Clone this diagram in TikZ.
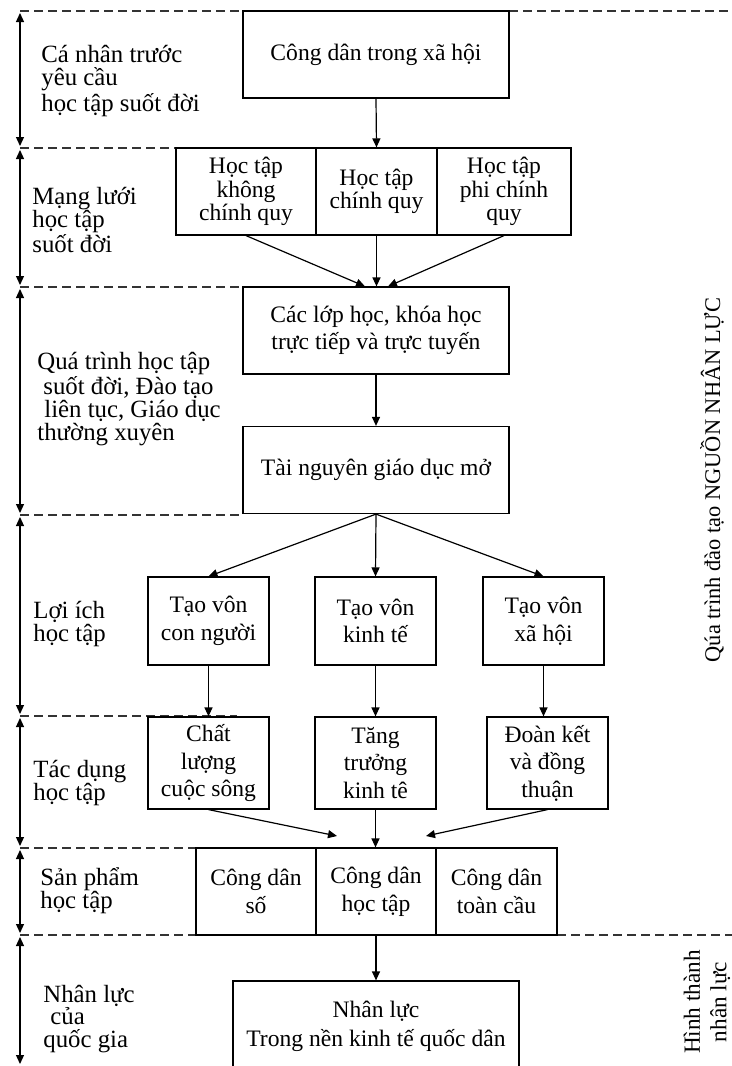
\documentclass[tikz,border=0pt]{standalone}
\usepackage{fontspec}
\setmainfont{Liberation Serif}
\usetikzlibrary{arrows.meta}

\begin{document}
\begin{tikzpicture}[x=0.5pt,y=-0.5pt,
  font=\fontsize{11.8}{13.8}\selectfont,
  >={Triangle[length=4.5pt,width=4pt]},
  box/.style={draw,line width=0.6pt,align=center,inner sep=0pt,minimum height=43.5pt},
  tight/.style={font=\fontsize{11.8}{11.8}\selectfont},
  lbl/.style={anchor=west,align=left,inner sep=0pt,font=\fontsize{12.4}{11.4}\selectfont},
  sep/.style={dash pattern=on 4.5pt off 2.5pt,line width=0.6pt,black!80},
  band/.style={<->,line width=0.6pt,shorten <=1pt,shorten >=1pt},
  link/.style={->,line width=0.6pt}]

  \useasboundingbox (0,0) rectangle (732,1066);

  % band borders
  \foreach \y/\xa/\xb in {11/20/243, 11/509/732, 148/20/237, 287/20/243,
      515/20/243, 716/20/237, 848/20/196, 935/20/196, 935/557/732}
    \draw[sep] (\xa,\y) -- (\xb,\y);

  % band heights
  \foreach \ya/\yb in {11/148, 148/287, 287/515, 515/716, 716/848, 848/935, 935/1066}
    \draw[band] (20,\ya) -- (20,\yb);

  % band titles
  \node[lbl] (l1) at (41,81) {Cá nhân trước\\yêu cầu\\học tập suốt đời};
  \node[lbl] (l2) at (32,220) {Mạng lưới\\học tập\\suốt đời};
  \node[lbl] (l3) at (37,399) {Quá trình học tập\\\hspace*{3pt}suốt đời, Đào tạo\\\hspace*{3.5pt}liên tục, Giáo dục\\thường xuyên};
  \node[lbl] (l4) at (33,624) {Lợi ích\\học tập};
  \node[lbl] (l5) at (33,783) {Tác dụng\\học tập};
  \node[lbl] (l6) at (40,891) {Sản phẩm\\học tập};
  \node[lbl] (l7) at (43,1019) {Nhân lực\\\hspace*{3.5pt}của\\quốc gia};

  % right side
  \node[rotate=90,font=\fontsize{11.2}{13}\selectfont] (process) at (712,480)
    {Qúa trình đào tạo NGUỒN NHÂN LỰC};
  \node[rotate=90,align=center,font=\fontsize{11.6}{13.2}\selectfont] (forming) at (707,1002)
    {Hình thành\\nhân lực};

  % citizen and networks
  \node[box,minimum width=133pt] (citizen) at (376,54.5) {Công dân trong xã hội};
  \node[box,tight,minimum width=70pt] (nonformal) at (246,191.5) {Học tập\\không\\chính quy};
  \node[box,tight,minimum width=60.5pt] (formal) at (376.5,191.5) {Học tập\\chính quy};
  \node[box,tight,minimum width=67pt] (informal) at (504,191.5) {Học tập\\phi chính\\quy};

  % learning process
  \node[box,minimum width=133pt] (courses) at (376,330.5) {Các lớp học, khóa học\\trực tiếp và trực tuyến};
  \node[box,minimum width=133pt] (oer) at (376,470) {Tài nguyên giáo dục mở};

  % benefits
  \node[box,minimum width=60.5pt,minimum height=44pt] (human) at (208.5,621) {Tạo vôn\\con người};
  \node[box,minimum width=60.5pt,minimum height=44pt] (economic) at (375.5,621) {Tạo vôn\\kinh tế};
  \node[box,minimum width=60.5pt,minimum height=44pt] (social) at (543.5,621) {Tạo vôn\\xã hội};

  % effects
  \node[box,minimum width=60.5pt,minimum height=46pt] (life) at (208.5,763) {Chất\\lượng\\cuộc sông};
  \node[box,minimum width=60.5pt,minimum height=46pt] (growth) at (375.5,763) {Tăng\\trưởng\\kinh tê};
  \node[box,minimum width=60.5pt,minimum height=46pt] (unity) at (547.5,763) {Đoàn kết\\và đồng\\thuận};

  % products
  \node[box,minimum width=60pt] (digital) at (256,891.5) {Công dân\\số};
  \node[box,minimum width=60pt] (learner) at (376,891.5) {Công dân\\học tập};
  \node[box,minimum width=60.5pt] (global) at (496.5,891.5) {Công dân\\toàn cầu};

  % workforce
  \node[box,minimum width=143pt,minimum height=45pt,font=\fontsize{11.8}{14.5}\selectfont]
    (workforce) at (376,1026) {Nhân lực\\Trong nền kinh tế quốc dân};

  % arrows
  \draw[link] (citizen.south) -- (formal.north);
  \draw[link] (nonformal.south) -- ([xshift=-5.5pt]courses.north);
  \draw[link] (formal.south) -- (formal.south |- courses.north);
  \draw[link] (informal.south) -- ([xshift=6pt]courses.north);
  \draw[link] (courses) -- (oer);
  \foreach \n in {human,economic,social}
    \draw[link] (oer.south) -- (\n.north);
  \foreach \a/\b in {human/life,economic/growth,social/unity}
    \draw[link] (\a.south) -- (\a.south |- \b.north);

  \coordinate (joinL) at (337,836);
  \coordinate (joinR) at (426,836);
  \draw[link] (life.south) -- (joinL);
  \draw[link] (growth.south) -- (growth.south |- learner.north);
  \draw[link] (unity.south) -- (joinR);
  \draw[link] (learner.south) -- (workforce.north);
\end{tikzpicture}
\end{document}
